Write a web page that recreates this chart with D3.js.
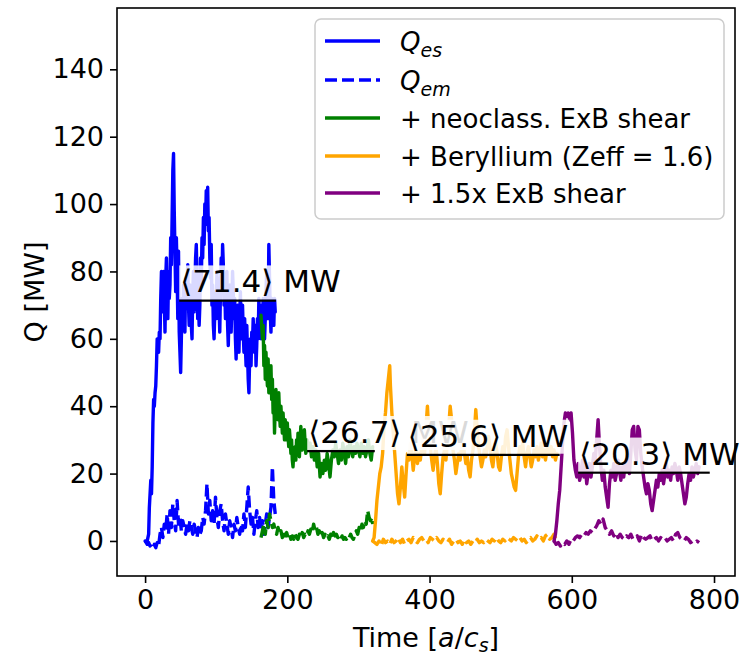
<!DOCTYPE html>
<html><head><meta charset="utf-8">
<script src="https://cdn.jsdelivr.net/npm/d3@7/dist/d3.min.js"></script>
<style>body{margin:0;background:#fff;} svg{display:block;font-family:"DejaVu Sans",sans-serif;}</style>
</head><body><svg id="c" width="743" height="656"></svg>
<script>
// ---- data: [time, Q] pairs ----
const qesBase = [[0,0],[3,0],[5,2],[6,10],[8,18],[9,14],[10,22],[11,35],[12,42],[13,40],[14,44],[15,46],[16,52],[17,60],[18,58],[19,56],[20,62],[21,60],[22,72],[23,80],[24,76],[25,68],[26,80],[27,72],[28,62],[29,78],[30,84],[31,70],[32,66],[33,80],[34,72],[35,76],[36,90],[37,82],[38,96],[39,110],[40,115],[41,98],[42,86],[43,74],[44,90],[45,80],[46,66],[47,86],[48,62],[49,56],[50,50],[51,60],[52,72],[53,66],[54,76],[55,70],[56,62],[57,78],[58,72],[60,82],[61,70],[62,64],[63,76],[64,68],[66,60],[67,74],[68,80],[69,68],[70,76],[71,84],[72,88],[73,78],[74,66],[75,72],[76,64],[77,70],[78,84],[79,76],[80,90],[81,84],[82,96],[83,88],[84,100],[85,94],[86,104],[87,98],[88,105],[89,92],[90,96],[91,84],[92,78],[93,88],[94,70],[95,76],[96,64],[97,60],[98,68],[99,74],[100,66],[101,80],[102,72],[103,78],[104,70],[105,62],[106,74],[107,84],[108,76],[109,88],[110,82],[111,70],[112,76],[113,66],[114,72],[115,80],[116,64],[117,58],[118,68],[119,76],[120,72],[121,62],[122,70],[123,80],[124,74],[125,66],[126,72],[127,60],[128,54],[129,66],[130,70],[131,62],[132,56],[133,66],[134,74],[135,64],[136,60],[137,70],[138,62],[139,56],[140,66],[141,58],[142,52],[143,64],[144,56],[145,48],[146,44],[147,54],[148,60],[149,52],[150,62],[151,58],[152,66],[153,60],[154,56],[155,64],[156,52],[157,58],[158,66],[159,60],[160,72],[161,64],[162,68],[163,60],[164,70],[165,64],[166,72],[167,68],[168,60],[169,66],[170,74],[171,80],[172,72],[173,66],[174,88],[175,78],[176,68],[177,62],[178,72],[179,66],[180,70],[181,64],[182,72],[183,68]];
const qemBase = [[0,0],[3,-1],[5,-0.5],[7,-1.5],[9,-1],[11,-2],[13,-1],[15,-2],[17,-0.5],[19,-1.5],[21,2],[23,4],[25,1],[27,5],[29,3],[31,8],[33,2],[35,9],[37,4],[39,11],[41,6],[43,3],[45,12],[47,5],[49,7],[51,3],[53,6],[55,4],[57,2],[59,5],[61,3],[63,6],[65,4],[67,2],[69,5],[71,3],[73,1],[75,4],[77,2],[79,3],[81,7],[83,5],[85,9],[87,17],[89,8],[91,12],[93,6],[95,9],[97,5],[99,13],[101,7],[103,4],[105,9],[107,11],[109,6],[111,3],[113,8],[115,5],[117,2],[119,6],[121,4],[123,1],[125,5],[127,3],[129,7],[131,4],[133,2],[135,5],[137,3],[139,8],[141,4],[143,10],[145,16],[147,9],[149,5],[151,7],[153,2],[155,6],[157,9],[159,4],[161,7],[163,3],[165,6],[167,2],[169,5],[171,8],[173,4],[175,7],[177,10],[179,22],[181,12],[183,8]];
const qesNeo = [[163,67],[165,60],[166,64],[167,52],[168,58],[169,48],[170,56],[171,50],[172,46],[173,54],[174,44],[175,50],[176,46],[177,52],[178,42],[179,48],[180,38],[181,44],[182,32],[183,40],[184,45],[185,38],[186,42],[187,36],[188,44],[189,38],[190,34],[191,40],[192,36],[193,32],[194,38],[195,34],[196,30],[197,36],[198,33],[199,30],[200,35],[201,31],[202,28],[203,33],[204,30],[205,26],[206,30],[207,24],[208,22],[209,26],[210,24],[211,28],[212,24],[213,30],[214,26],[215,32],[216,28],[217,25],[218,30],[219,34],[220,30],[221,27],[222,31],[223,28],[224,33],[225,29],[226,26],[228,30],[230,27],[232,29],[234,25],[236,28],[238,24],[240,27],[242,22],[244,26],[246,19],[248,23],[250,20],[252,24],[254,21],[256,26],[258,23],[260,19],[262,24],[264,27],[266,25],[268,29],[270,26],[272,23],[274,27],[276,24],[278,29],[280,26],[282,23],[284,28],[286,25],[288,30],[290,27],[292,25],[294,28],[296,26],[298,29],[300,27],[302,25],[304,29],[306,26],[308,28],[310,25],[312,27],[314,30],[316,26],[318,24],[320,28]];
const qemNeo = [[163,1],[165,3],[167,5],[169,2],[171,6],[173,4],[175,8],[177,6],[179,4],[181,5],[183,3],[185,2],[187,4],[189,2],[191,3],[193,1],[195,3],[197,1.5],[199,2.5],[201,1],[203,2],[205,0.5],[207,1.5],[209,0.5],[211,2],[213,1],[215,0.5],[217,2],[219,1],[221,2.5],[223,1],[225,2],[227,1.5],[229,3],[231,2],[233,3.5],[235,2.5],[237,5],[239,3],[241,4],[243,2],[245,3],[247,1.5],[249,2.5],[251,1],[253,2],[255,1],[257,1.5],[259,0.5],[261,2],[263,1],[265,2.5],[267,1.5],[269,2],[271,1],[273,1.5],[275,0.5],[277,1.5],[279,0.5],[281,1],[283,0.5],[285,1.5],[287,1],[289,2],[291,1],[293,0.5],[295,2],[297,3],[299,2],[301,4],[303,3],[305,5],[307,4],[309,6],[311,5],[313,9],[315,7],[317,6],[319,7],[320,5]];
const qesBe = [[320,0],[322,1],[324,6],[326,12],[328,16],[330,20],[332,22],[334,26],[336,34],[338,38],[340,44],[342,48],[344,52],[345,46],[347,38],[349,32],[351,26],[353,20],[355,14],[357,11],[359,16],[361,22],[363,17],[365,13],[367,20],[369,26],[371,24],[373,29],[375,26],[377,21],[379,25],[381,28],[383,23],[385,26],[387,24],[389,28],[391,31],[393,26],[395,34],[397,40],[399,32],[401,28],[403,24],[405,21],[407,25],[409,28],[411,23],[413,17],[415,14],[417,20],[419,25],[421,27],[423,24],[425,29],[427,34],[429,40],[431,36],[433,27],[435,24],[437,20],[439,23],[441,26],[443,24],[445,28],[447,30],[449,26],[451,23],[453,25],[455,21],[457,19],[459,24],[461,27],[463,32],[465,39],[467,33],[469,28],[471,25],[473,22],[475,24],[477,27],[479,25],[481,28],[483,31],[485,28],[487,24],[489,22],[491,26],[493,29],[495,26],[497,22],[499,21],[501,25],[503,28],[505,26],[507,31],[509,33],[511,28],[513,24],[515,20],[517,18],[519,16],[521,15],[523,20],[525,25],[527,28],[529,26],[531,29],[533,25],[535,22],[537,26],[539,28],[541,25],[543,22],[545,24],[547,27],[549,25],[551,28],[553,24],[555,26],[557,29],[559,25],[561,27],[563,24],[565,27],[567,29],[569,26],[571,28],[573,25],[575,27],[577,24],[579,26]];
const qemBe = [[320,0],[323,-0.5],[326,-1],[329,0],[332,-1.5],[335,0.5],[338,-0.5],[341,0],[344,-1],[347,0.5],[350,-0.5],[353,0],[356,1],[359,-0.5],[362,0.5],[365,-1],[368,0],[371,0.5],[374,-0.5],[377,1],[380,0],[383,-0.5],[386,0.5],[389,1],[392,0],[395,0.5],[398,-0.5],[401,1],[404,0.5],[407,0],[410,1],[413,0],[416,-0.5],[419,0.5],[422,0],[425,-0.5],[428,0.5],[431,-1],[434,0],[437,0.5],[440,-0.5],[443,0],[446,-1],[449,0.5],[452,-0.5],[455,0],[458,-1],[461,0],[464,-0.5],[467,0.5],[470,-0.5],[473,0],[476,-0.5],[479,0.5],[482,0],[485,-0.5],[488,0.5],[491,0],[494,1],[497,0],[500,-0.5],[503,0.5],[506,0],[509,1],[512,0.5],[515,0],[518,1],[521,0.5],[524,0],[527,1],[530,0],[533,0.5],[536,-0.5],[539,0.5],[542,1],[545,0],[548,0.5],[551,1.5],[554,0.5],[557,1],[560,0],[563,1.5],[566,2],[569,0.5],[572,1],[575,2],[578,0.5]];
const qesShear = [[575,0],[577,2],[579,6],[581,11],[583,15],[585,22],[587,29],[589,35],[591,38],[593,37],[595,38],[597,36],[599,38],[601,32],[603,24],[605,21],[607,19],[609,23],[611,18],[613,20],[615,24],[617,19],[619,22],[621,17],[623,20],[625,23],[627,19],[629,22],[631,26],[633,24],[635,30],[637,36],[639,28],[641,22],[643,18],[645,21],[647,16],[649,13],[651,10],[653,17],[655,21],[657,19],[659,23],[661,18],[663,20],[665,24],[667,21],[669,18],[671,22],[673,19],[675,23],[677,21],[679,24],[681,20],[683,26],[685,33],[687,34],[689,27],[691,24],[693,34],[695,33],[697,26],[699,22],[701,19],[703,16],[705,14],[707,17],[709,15],[711,11],[713,9],[715,12],[717,15],[719,18],[721,16],[723,20],[725,18],[727,21],[729,17],[731,20],[733,23],[735,19],[737,21],[739,18],[741,22],[743,20],[745,23],[747,21],[749,18],[751,22],[753,20],[755,17],[757,14],[759,11],[761,13],[763,17],[765,20],[767,18],[769,22],[771,19],[773,21],[775,23],[777,20],[779,22]];
const qemShear = [[575,0],[578,-1],[581,-0.5],[584,-1.5],[587,-0.5],[590,-1],[593,0],[596,-1],[599,0.5],[602,0],[605,1],[608,1.5],[611,1],[614,2],[617,1.5],[620,2.5],[623,2],[626,3],[629,2.5],[632,3.5],[635,4.5],[638,6],[641,5],[644,6.5],[647,4],[650,3],[653,2],[656,3],[659,1.5],[662,2.5],[665,1],[668,2],[671,1],[674,0.5],[677,1.5],[680,1],[683,2],[686,0.5],[689,1],[692,1.5],[695,0],[698,2],[701,1],[704,0.5],[707,1],[710,1.5],[713,0],[716,0.5],[719,1],[722,0],[725,1],[728,0.5],[731,1],[734,0],[737,0.5],[740,1],[743,0],[746,2],[749,2.5],[752,1],[755,0.5],[758,0],[761,1],[764,0.5],[767,-0.5],[770,0],[773,-0.5],[776,0],[779,-0.5]];

const meanVals  = [71.4, 26.7, 25.6, 20.3];
const meanStart = [48, 228, 368, 609];
const meanEnd   = [184, 323, 583, 794];

const xTicks = [0, 200, 400, 600, 800];
const yTicks = [0, 20, 40, 60, 80, 100, 120, 140];
const legendLabels = ["Q_es", "Q_em", "+ neoclass. ExB shear", "+ Beryllium (Zeff = 1.6)", "+ 1.5x ExB shear"];

// ---- layout ----
const L = 117, R = 735, T = 8, B = 576;
const svg = d3.select("#c");
const x = d3.scaleLinear().domain([-39.5, 829.5]).range([L, R]);
const y = d3.scaleLinear().domain([-10.4, 158.2]).range([B, T]);

const series = [
  {d: qesBase, c: "#0000ff", dash: null},
  {d: qemBase, c: "#0000ff", dash: "12,5"},
  {d: qesNeo, c: "#008000", dash: null},
  {d: qemNeo, c: "#008000", dash: "12,5"},
  {d: qesBe, c: "#ffa500", dash: null},
  {d: qemBe, c: "#ffa500", dash: "12,5"},
  {d: qesShear, c: "#800080", dash: null},
  {d: qemShear, c: "#800080", dash: "12,5"}
];
const line = d3.line().x(d => x(d[0])).y(d => y(d[1]));
const plot = svg.append("g");
series.forEach(s => {
  plot.append("path").attr("d", line(s.d)).attr("fill", "none")
    .attr("stroke", s.c).attr("stroke-width", 3.4)
    .attr("stroke-linejoin", "round").attr("stroke-linecap", s.dash ? "butt" : "round")
    .attr("stroke-dasharray", s.dash);
});

// mean annotations
meanVals.forEach((m, i) => {
  plot.append("line").attr("x1", x(meanStart[i])).attr("x2", x(meanEnd[i]))
    .attr("y1", y(m)).attr("y2", y(m)).attr("stroke", "#000").attr("stroke-width", 2.5);
  const g = plot.append("g");
  const rect = g.append("rect").attr("fill", "#fff").attr("fill-opacity", 0.85);
  const t = g.append("text").attr("x", x(meanStart[i]) + 1).attr("y", y(m) - 8)
    .attr("font-size", 31).attr("fill", "#000").text("\u27E8" + m.toFixed(1) + "\u27E9 MW");
  const bb = t.node().getBBox();
  rect.attr("x", bb.x - 1).attr("y", bb.y + 2).attr("width", bb.width + 2).attr("height", bb.height - 2);
});

// frame
svg.append("rect").attr("x", L).attr("y", T).attr("width", R - L).attr("height", B - T)
  .attr("fill", "none").attr("stroke", "#000").attr("stroke-width", 1.6);

// axes
const fs = 27;
const gx = svg.append("g").attr("transform", `translate(0,${B})`)
  .call(d3.axisBottom(x).tickValues(xTicks).tickSize(7).tickPadding(7));
const gy = svg.append("g").attr("transform", `translate(${L},0)`)
  .call(d3.axisLeft(y).tickValues(yTicks).tickSize(7).tickPadding(6));
[gx, gy].forEach(g => {
  g.select(".domain").remove();
  g.selectAll(".tick line").attr("stroke", "#000").attr("stroke-width", 1.6);
  g.selectAll(".tick text").attr("font-size", fs).attr("font-family", "DejaVu Sans").attr("fill", "#000");
});

// axis labels
const xl = svg.append("text").attr("x", (L + R) / 2).attr("y", 647).attr("text-anchor", "middle")
  .attr("font-size", fs).attr("fill", "#000");
xl.append("tspan").text("Time [");
xl.append("tspan").attr("font-style", "italic").text("a");
xl.append("tspan").text("/");
xl.append("tspan").attr("font-style", "italic").text("c");
xl.append("tspan").attr("font-style", "italic").attr("font-size", 19).attr("dy", 5).text("s");
xl.append("tspan").attr("dy", -5).text("]");
svg.append("text").attr("transform", `translate(44,${(T + B) / 2}) rotate(-90)`)
  .attr("text-anchor", "middle").attr("font-size", fs).attr("fill", "#000").text("Q [MW]");

// legend
const lg = svg.append("g");
lg.append("rect").attr("x", 315).attr("y", 19).attr("width", 409).attr("height", 200)
  .attr("rx", 6).attr("fill", "#fff").attr("fill-opacity", 0.8).attr("stroke", "#cccccc").attr("stroke-width", 1.5);
const legColors = ["#0000ff", "#0000ff", "#008000", "#ffa500", "#800080"];
const legDash = [null, "12,5", null, null, null];
const rowY = [41, 80, 118, 156, 193];
legendLabels.forEach((lab, i) => {
  lg.append("line").attr("x1", 325).attr("x2", 380).attr("y1", rowY[i]).attr("y2", rowY[i])
    .attr("stroke", legColors[i]).attr("stroke-width", 3.4).attr("stroke-dasharray", legDash[i]);
  const t = lg.append("text").attr("x", 400).attr("y", rowY[i] + 9.5).attr("font-size", 26).attr("fill", "#000");
  if (lab.startsWith("Q_")) {
    t.append("tspan").attr("font-style", "italic").text("Q");
    t.append("tspan").attr("font-style", "italic").attr("font-size", 19).attr("dy", 6).text(lab.slice(2));
  } else {
    t.text(lab);
  }
});
</script></body></html>
